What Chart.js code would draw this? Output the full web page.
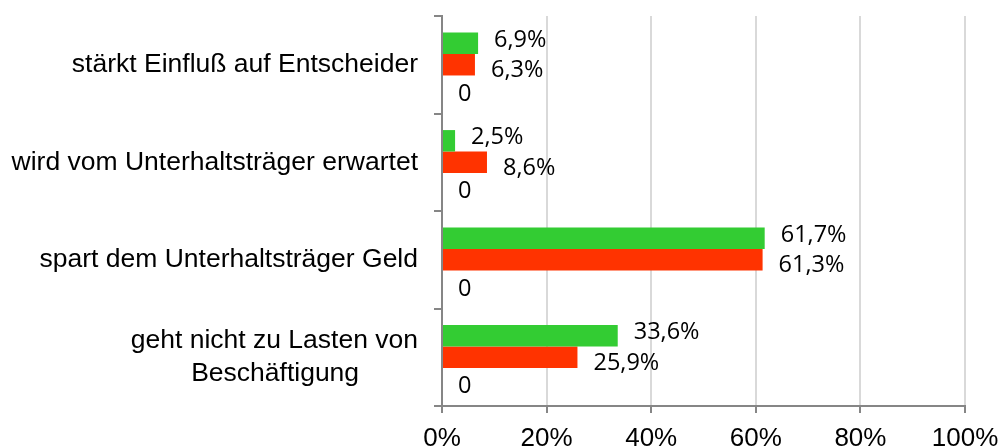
<!DOCTYPE html>
<html>
<head>
<meta charset="utf-8">
<script src="https://cdn.jsdelivr.net/npm/chart.js@4"></script>
<style>
  body { margin: 0; background: #fff; }
  #wrap { width: 1001px; height: 448px; position: relative; }
</style>
</head>
<body>
<div id="wrap"><canvas id="chart"></canvas></div>
<script>
// data
let categories = [
    "stärkt Einfluß auf Entscheider",
    "wird vom Unterhaltsträger erwartet",
    "spart dem Unterhaltsträger Geld",
    ["geht nicht zu Lasten von", "Beschäftigung"]
]
let seriesGreen = [6.9, 2.5, 61.7, 33.6]
let seriesRed = [6.3, 8.6, 61.3, 25.9]
let seriesZero = [0, 0, 0, 0]
let xTicks = [0, 20, 40, 60, 80, 100]

let catFont = { family: "'Liberation Sans', Arial, sans-serif", size: 26.5, lineHeight: 1.22 }
let tickFont = { family: "'Liberation Sans', Arial, sans-serif", size: 26 }
let labelFont = "23.5px 'Open Sans', sans-serif"

// centre the shorter line of a two-line label (pad with no-break spaces)
let measureCtx = document.createElement("canvas").getContext("2d")
measureCtx.font = catFont.size + "px " + catFont.family
function centerLines(label) {
    if (!Array.isArray(label)) { return label }
    let widest = Math.max(...label.map(l => measureCtx.measureText(l).width))
    let sp = measureCtx.measureText("\u00a0").width
    return label.map(l => {
        let n = Math.round((widest - measureCtx.measureText(l).width) / 2 / sp)
        return l + "\u00a0".repeat(n)
    })
}

// value labels next to the bar ends
const barLabels = {
    id: "barLabels",
    afterDatasetsDraw(chart, args, opts) {
        let ctx = chart.ctx
        ctx.save()
        ctx.font = labelFont
        ctx.fillStyle = "#000"
        ctx.textAlign = "left"
        ctx.textBaseline = "middle"
        chart.data.datasets.forEach((ds, i) => {
            let meta = chart.getDatasetMeta(i)
            meta.data.forEach((bar, j) => {
                let v = ds.data[j]
                let txt = ds.isCount ? String(v) : v.toFixed(1).replace(".", ",") + "%"
                ctx.fillText(txt, bar.x + 16, bar.y + ds.labelShift)
            })
        })
        ctx.restore()
    }
}

let ctx = document.getElementById("chart")
let chart = new Chart(ctx, {
    type: "bar",
    data: {
        labels: categories,
        datasets: [{
            label: "Serie 1",
            data: seriesGreen,
            backgroundColor: "#33cc33",
            labelShift: -3
        },
        {
            label: "Serie 2",
            data: seriesRed,
            backgroundColor: "#ff3300",
            labelShift: 6
        },
        {
            label: "Serie 3",
            data: seriesZero,
            backgroundColor: "#3366ff",
            isCount: true,
            labelShift: 8
        }]
    },
    plugins: [barLabels],
    options: {
        indexAxis: "y",
        responsive: true,
        maintainAspectRatio: false,
        animation: false,
        categoryPercentage: 0.66,
        barPercentage: 1,
        layout: { padding: { top: 16, right: 36, bottom: 0, left: 0 } },
        scales: {
            x: {
                min: 0,
                max: 100,
                afterBuildTicks: function (scale) {
                    scale.ticks = xTicks.map(v => ({ value: v }))
                },
                afterFit: function (scale) {
                    scale.height = 42
                    scale.paddingLeft = 0
                    scale.paddingRight = 0
                },
                ticks: {
                    color: "#000",
                    font: tickFont,
                    padding: 10,
                    callback: function (value) { return value + "%" }
                },
                grid: {
                    color: "#d9d9d9",
                    lineWidth: 2,
                    tickColor: "#868686",
                    tickLength: 7
                },
                border: { color: "#868686", width: 2 }
            },
            y: {
                afterFit: function (scale) {
                    scale.width = 442
                    scale.paddingTop = 0
                    scale.paddingBottom = 0
                },
                ticks: {
                    color: "#000",
                    font: catFont,
                    padding: 16,
                    callback: function (value, index) {
                        return centerLines(categories[index])
                    }
                },
                grid: {
                    offset: true,
                    drawOnChartArea: false,
                    color: "#868686",
                    lineWidth: 2,
                    tickLength: 8
                },
                border: { color: "#868686", width: 2 }
            }
        },
        plugins: {
            legend: { display: false },
            tooltip: { enabled: false }
        }
    }
})
</script>
</body>
</html>
